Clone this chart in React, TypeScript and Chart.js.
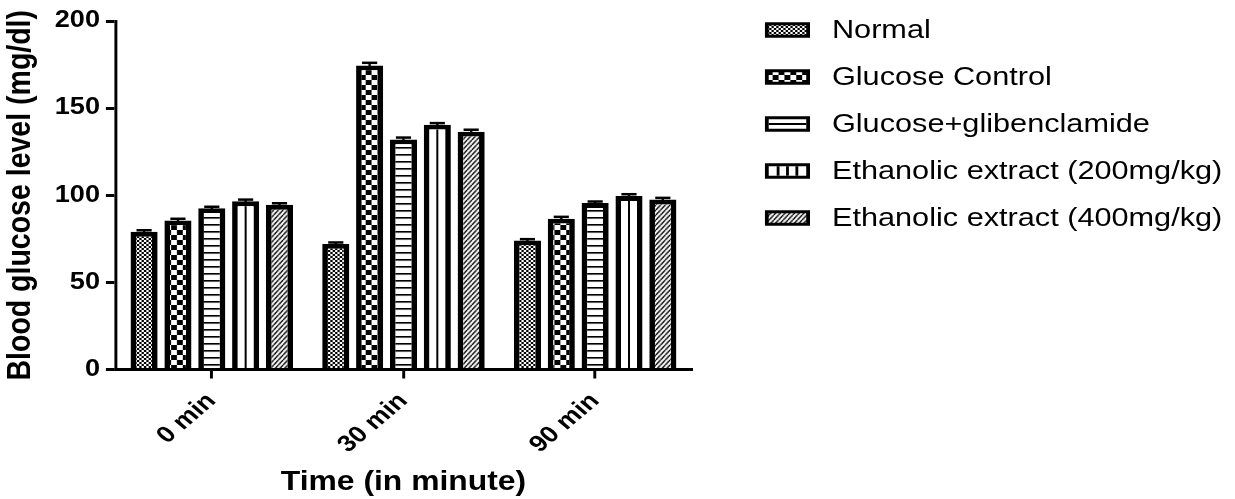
import React, { useEffect, useRef } from 'react';
import { Chart, registerables } from 'chart.js';

Chart.register(...registerables);

// ---------- data ----------
const timeLabels = ['0 min', '30 min', '90 min'];
const seriesNames = [
  'Normal',
  'Glucose Control',
  'Glucose+glibenclamide',
  'Ethanolic extract (200mg/kg)',
  'Ethanolic extract (400mg/kg)',
];
const normalValues = [79, 72, 74];
const glucoseControlValues = [85.5, 174.5, 86.5];
const glibenclamideValues = [92.5, 132, 95.5];
const extract200Values = [96.5, 140.5, 99.5];
const extract400Values = [94.5, 136.5, 97.5];

const normalErrors = [0.9, 0.9, 0.8];
const glucoseControlErrors = [1.0, 1.5, 1.1];
const glibenclamideErrors = [0.9, 1.1, 0.9];
const extract200Errors = [1.0, 0.9, 1.1];
const extract400Errors = [0.9, 1.1, 1.0];

const yMin = 0;
const yMax = 200;
const yStep = 50;

const xTitle = 'Time (in minute)';
const yTitle = 'Blood glucose level (mg/dl)';

// ---------- layout constants ----------
const PAGE_W = 1235;
const PAGE_H = 499;
const LOGICAL_W = 1047;
const SX = PAGE_W / LOGICAL_W;
const FONT = "'Liberation Sans', Arial, Helvetica, sans-serif";

const seriesValues = [normalValues, glucoseControlValues, glibenclamideValues, extract200Values, extract400Values];
const seriesErrors = [normalErrors, glucoseControlErrors, glibenclamideErrors, extract200Errors, extract400Errors];

function makeTile(w: number, h: number, draw: (g: CanvasRenderingContext2D) => void) {
  const c = document.createElement('canvas');
  c.width = w;
  c.height = h;
  const g = c.getContext('2d')!;
  g.fillStyle = '#fff';
  g.fillRect(0, 0, w, h);
  g.fillStyle = '#000';
  g.strokeStyle = '#000';
  draw(g);
  return c;
}

function makePatterns(ctx: CanvasRenderingContext2D): (CanvasPattern | string)[] {
  const fine = makeTile(4, 4, (g) => {
    g.fillRect(0, 0, 2, 2);
    g.fillRect(2, 2, 2, 2);
  });
  const coarse = makeTile(10, 10, (g) => {
    g.fillRect(0, 0, 5, 5);
    g.fillRect(5, 5, 5, 5);
  });
  const hlines = makeTile(4, 7, (g) => {
    g.fillRect(0, 0, 4, 1.6);
  });
  const hatch = makeTile(4, 5, (g) => {
    g.lineWidth = 1.3;
    for (const dx of [-4, 0, 4]) {
      g.beginPath();
      g.moveTo(dx, 5);
      g.lineTo(dx + 4, 0);
      g.stroke();
    }
  });
  return [
    ctx.createPattern(fine, 'repeat')!,
    ctx.createPattern(coarse, 'repeat')!,
    ctx.createPattern(hlines, 'repeat')!,
    '#ffffff',
    ctx.createPattern(hatch, 'repeat')!,
  ];
}

const BORDER = 4.8;

export default function App() {
  const ref = useRef<HTMLCanvasElement>(null);

  useEffect(() => {
    const canvas = ref.current!;
    canvas.width = LOGICAL_W;
    canvas.height = PAGE_H;
    canvas.style.width = '';
    canvas.style.height = '';
    const ctx0 = canvas.getContext('2d')!;
    const patterns = makePatterns(ctx0);

    const stretchPlugin = {
      id: 'stretch',
      beforeDraw(chart: any) {
        chart.ctx.setTransform(SX, 0, 0, 1, 0, 0);
      },
    };

    const decorPlugin = {
      id: 'decor',
      afterDatasetsDraw(chart: any) {
        const ctx = chart.ctx as CanvasRenderingContext2D;
        const yScale = chart.scales.y;
        // vertical centre line of the 200 mg/kg bars
        const meta3 = chart.getDatasetMeta(3);
        ctx.save();
        ctx.strokeStyle = '#000';
        ctx.lineWidth = 1.7;
        meta3.data.forEach((el: any) => {
          const p = el.getProps(['x', 'y', 'base'], true);
          ctx.beginPath();
          ctx.moveTo(p.x, p.y + BORDER);
          ctx.lineTo(p.x, p.base);
          ctx.stroke();
        });
        // error bars
        chart.data.datasets.forEach((ds: any, i: number) => {
          const meta = chart.getDatasetMeta(i);
          meta.data.forEach((el: any, j: number) => {
            const p = el.getProps(['x', 'y', 'width'], true);
            const v = seriesValues[i][j];
            const e = seriesErrors[i][j];
            const yTop = yScale.getPixelForValue(v + e);
            const half = p.width * 0.28;
            ctx.lineWidth = 2;
            ctx.beginPath();
            ctx.moveTo(p.x, p.y + 1);
            ctx.lineTo(p.x, yTop);
            ctx.stroke();
            ctx.lineWidth = 2.5;
            ctx.beginPath();
            ctx.moveTo(p.x - half, yTop);
            ctx.lineTo(p.x + half, yTop);
            ctx.stroke();
          });
        });
        ctx.restore();
      },
    };

    const legendPlugin = {
      id: 'customLegend',
      afterDraw(chart: any) {
        const ctx = chart.ctx as CanvasRenderingContext2D;
        const bx = 648.5;
        const bw = 38.2;
        const bh = 15.5;
        const tx = 705.3;
        ctx.save();
        seriesNames.forEach((name, i) => {
          const cy = 30 + i * 47;
          const top = cy - bh / 2;
          ctx.fillStyle = '#000';
          ctx.fillRect(bx, top, bw, bh);
          const ix = bx + 3.2;
          const iy = top + 3;
          const iw = bw - 6.4;
          const ih = bh - 6;
          ctx.fillStyle = patterns[i] as any;
          if (i === 2 || i === 3) ctx.fillStyle = '#fff';
          ctx.fillRect(ix, iy, iw, ih);
          ctx.strokeStyle = '#000';
          if (i === 2) {
            ctx.lineWidth = 2;
            ctx.beginPath();
            ctx.moveTo(ix, cy);
            ctx.lineTo(ix + iw, cy);
            ctx.stroke();
          }
          if (i === 3) {
            ctx.lineWidth = 2.4;
            for (let k = 1; k <= 3; k++) {
              const lx = ix + (iw * k) / 4;
              ctx.beginPath();
              ctx.moveTo(lx, iy);
              ctx.lineTo(lx, iy + ih);
              ctx.stroke();
            }
          }
          ctx.fillStyle = '#000';
          ctx.font = `26px ${FONT}`;
          ctx.textBaseline = 'middle';
          ctx.textAlign = 'left';
          ctx.fillText(name, tx, cy + 1);
        });
        ctx.restore();
      },
    };

    const chart = new Chart(canvas, {
      type: 'bar',
      data: {
        labels: timeLabels,
        datasets: seriesValues.map((data, i) => ({
          label: seriesNames[i],
          data,
          backgroundColor: patterns[i] as any,
          borderColor: '#000',
          borderWidth: BORDER,
          borderSkipped: 'start',
          categoryPercentage: 0.883,
          barPercentage: 0.8,
        })),
      },
      options: {
        responsive: false,
        animation: false,
        devicePixelRatio: 1,
        events: [],
        layout: { padding: { top: 21, right: LOGICAL_W - 585.8, bottom: 0, left: 0 } },
        plugins: {
          legend: { display: false },
          tooltip: { enabled: false },
        },
        scales: {
          x: {
            type: 'category',
            offset: true,
            grid: {
              offset: false,
              drawOnChartArea: false,
              drawTicks: true,
              tickLength: 9,
              lineWidth: 2.5,
              color: '#000',
            },
            border: { display: true, color: '#000', width: 3 },
            ticks: {
              color: '#000',
              font: { family: FONT, size: 23, weight: 'bold' },
              minRotation: 45,
              maxRotation: 45,
              autoSkip: false,
              padding: 9,
            },
            title: {
              display: true,
              text: xTitle,
              color: '#000',
              font: { family: FONT, size: 27, weight: 'bold', lineHeight: 1 },
              padding: { top: 0, bottom: 3 },
            },
            afterFit(scale: any) {
              scale.height = PAGE_H - 369.5;
            },
          },
          y: {
            min: yMin,
            max: yMax,
            grid: {
              drawOnChartArea: false,
              drawTicks: true,
              tickLength: 8.5,
              lineWidth: 3,
              color: '#000',
            },
            border: { display: true, color: '#000', width: 2.5 },
            ticks: {
              stepSize: yStep,
              color: '#000',
              font: { family: FONT, size: 23, weight: 'bold' },
              padding: 5,
            },
            title: {
              display: true,
              text: yTitle,
              color: '#000',
              font: { family: FONT, size: 28.5, weight: 'bold', lineHeight: 1 },
              padding: { top: 3, bottom: 0 },
            },
            afterFit(scale: any) {
              scale.width = 98.3;
            },
          },
        },
      } as any,
      plugins: [stretchPlugin, decorPlugin, legendPlugin],
    });

    canvas.width = PAGE_W;
    canvas.height = PAGE_H;
    canvas.style.width = PAGE_W + 'px';
    canvas.style.height = PAGE_H + 'px';
    chart.draw();

    return () => {
      chart.destroy();
    };
  }, []);

  return (
    <div style={{ position: 'absolute', left: 0, top: 0, width: PAGE_W, height: PAGE_H, background: '#fff' }}>
      <canvas ref={ref} style={{ display: 'block' }} />
    </div>
  );
}
